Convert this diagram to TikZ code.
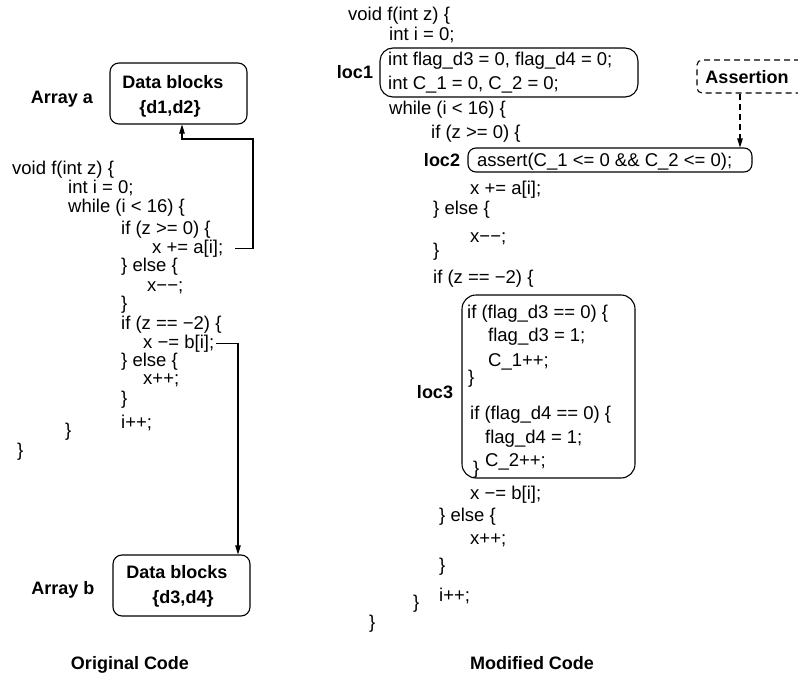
\documentclass[tikz,border=0pt]{standalone}
\usepackage{fontspec}
\setmainfont{Liberation Sans}
\usetikzlibrary{arrows.meta}
\begin{document}
\begin{tikzpicture}[x=1pt,y=-1pt,
  code/.style={anchor=base west, inner sep=0pt, font=\fontsize{18.5}{22}\selectfont},
  lbl/.style={anchor=base, inner sep=0pt, font=\fontsize{18}{22}\selectfont\bfseries},
  rbox/.style={draw, line width=1.1pt, rounded corners=9pt, inner sep=0pt},
  conn/.style={line width=1.1pt, -{Triangle[length=9pt,width=5.5pt]}},
]
\useasboundingbox (0,0) rectangle (798,677);

% ---------------- original code ----------------
\node[rbox, minimum width=137pt, minimum height=61pt] (boxa) at (178.5,93.5) {};
\node[lbl] (dba) at (173,88.5) {Data blocks};
\node[lbl] (dsa) at (170,113.5) {\{d1,d2\}};
\node[lbl] (arra) at (62,103) {Array a};

\node[code] (o1) at (12,174) {void f(int z) \{};
\node[code] (o2) at (68,193) {int i = 0;};
\node[code] (o3) at (68,212) {while (i < 16) \{};
\node[code] (o4) at (121,234) {if (z >= 0) \{};
\node[code] (xa) at (152,253) {x += a[i];};
\node[code] (o6) at (121,271) {\} else \{};
\node[code] (o7) at (147,291) {x−−;};
\node[code] (o8) at (121,309) {\}};
\node[code] (o9) at (121,329) {if (z == −2) \{};
\node[code] (xb) at (143,348) {x −= b[i];};
\node[code] (o11) at (121,366) {\} else \{};
\node[code] (o12) at (143,384) {x++;};
\node[code] (o13) at (121,404) {\}};
\node[code] (o14) at (121,428) {i++;};
\node[code] (o15) at (65,436) {\}};
\node[code] (o16) at (17,456) {\}};

\node[rbox, minimum width=137pt, minimum height=61pt] (boxb) at (181.5,585.5) {};
\node[lbl] (dbb) at (177,578.5) {Data blocks};
\node[lbl] (dsb) at (183,603.5) {\{d3,d4\}};
\node[lbl] (arrb) at (63,594.5) {Array b};

\node[lbl] (capo) at (130,669.5) {Original Code};

% accesses of a[i] and b[i]
\coordinate (aK) at (253,139);
\coordinate (aX) at (182,0);
\coordinate (bX) at (238,0);
\draw[conn] ([xshift=12pt]xa.east) -| (aK) -| (boxa.south -| aX);
\draw[conn] ([xshift=2pt]xb.east) -| (boxb.north -| bX);

% ---------------- modified code ----------------
\node[code] (m1) at (348,21) {void f(int z) \{};
\node[code] (m2) at (389,41) {int i = 0;};
\node[rbox, rounded corners=13pt, minimum width=258pt, minimum height=49pt] (loc1box) at (509,72.5) {};
\node[code] (m3) at (388,66) {int flag\_d3 = 0, flag\_d4 = 0;};
\node[code] (m4) at (388,89) {int C\_1 = 0, C\_2 = 0;};
\node[lbl] (loc1) at (355,78.5) {loc1};
\node[code] (m5) at (389,114) {while (i < 16) \{};
\node[code] (m6) at (431,138) {if (z >= 0) \{};
\node[rbox, rounded corners=8pt, minimum width=284pt, minimum height=24pt] (loc2box) at (610,160) {};
\node[code] (m7) at (477,166) {assert(C\_1 <= 0 \&\& C\_2 <= 0);};
\node[lbl] (loc2) at (442,166.5) {loc2};
\node[code] (m8) at (470,194) {x += a[i];};
\node[code] (m9) at (433,214) {\} else \{};
\node[code] (m10) at (470,242) {x−−;};
\node[code] (m11) at (433,256) {\}};
\node[code] (m12) at (433,283) {if (z == −2) \{};
\node[rbox, rounded corners=14pt, minimum width=173pt, minimum height=183pt] (loc3box) at (548.5,386.5) {};
\node[code] (m13) at (467,318) {if (flag\_d3 == 0) \{};
\node[code] (m14) at (488,341) {flag\_d3 = 1;};
\node[code] (m15) at (488,366) {C\_1++;};
\node[code] (m16) at (468,383) {\}};
\node[code] (m17) at (470,419) {if (flag\_d4 == 0) \{};
\node[code] (m18) at (485,443) {flag\_d4 = 1;};
\node[code] (m19) at (485,466) {C\_2++;};
\node[code] (m20) at (473,474) {\}};
\node[lbl] (loc3) at (435,398.5) {loc3};
\node[code] (m21) at (470,499) {x −= b[i];};
\node[code] (m22) at (439,521) {\} else \{};
\node[code] (m23) at (470,544) {x++;};
\node[code] (m24) at (439,571) {\}};
\node[code] (m25) at (439,601) {i++;};
\node[code] (m26) at (413,608) {\}};
\node[code] (m27) at (369,628) {\}};

\node[lbl] (capm) at (532,669.5) {Modified Code};

% assertion inserted at loc2
\begin{scope}
  \clip (0,0) rectangle (798,677);
  \node[rbox, dashed, dash pattern=on 6pt off 4pt, rounded corners=5pt,
        minimum width=118pt, minimum height=33pt] (asbox) at (756,76.5) {};
\end{scope}
\node[lbl] (astext) at (747,83.5) {Assertion};
\coordinate (dX) at (740,0);
\draw[conn, dash pattern=on 6pt off 4pt] (asbox.south -| dX) -- (loc2box.north -| dX);
\end{tikzpicture}
\end{document}
